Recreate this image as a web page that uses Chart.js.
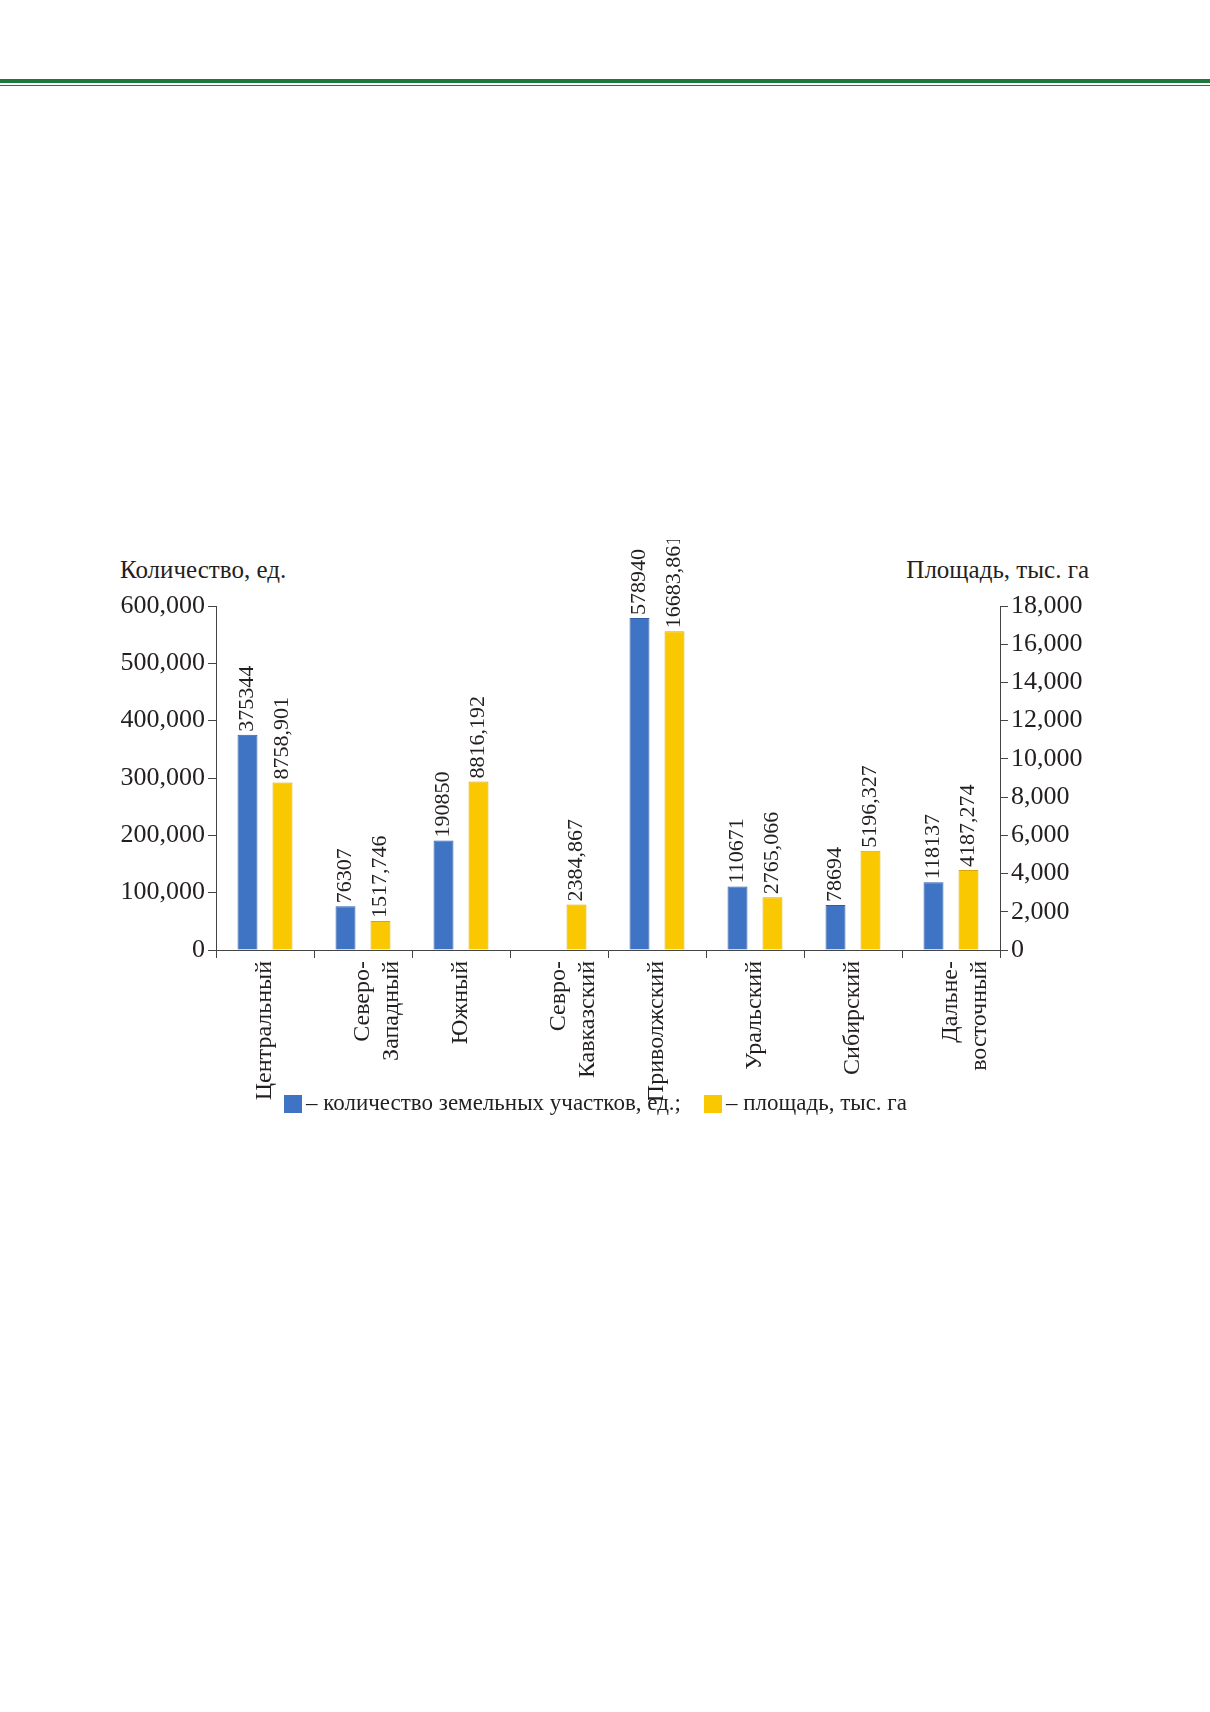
<!DOCTYPE html>
<html><head><meta charset="utf-8">
<script src="https://cdn.jsdelivr.net/npm/chart.js@4"></script>
<style>
body{margin:0;width:1210px;height:1712px;background:#fff;position:relative;font-family:"Liberation Serif","DejaVu Serif",serif;color:#231f20;}
.t{position:absolute;font-size:25px;white-space:nowrap;}
#wrap{position:absolute;left:116px;top:540px;width:984px;height:560px;}
.sw{display:inline-block;width:18px;height:18px;vertical-align:-3px;margin-right:4px;}
</style></head><body>
<div style="position:absolute;left:0;top:79px;width:1210px;height:4px;background:#1d7a3c"></div>
<div style="position:absolute;left:0;top:85px;width:1210px;height:1px;background:#1d7a3c"></div>
<div class="t" style="left:120px;top:556px">Количество, ед.</div>
<div class="t" style="right:121px;top:556px">Площадь, тыс. га</div>
<div id="wrap"><canvas id="c"></canvas></div>
<div class="t" style="left:284px;top:1090px;font-size:23px"><span class="sw" style="background:#3f73c4"></span>– количество земельных участков, ед.;&nbsp;&nbsp;&nbsp;&nbsp;<span class="sw" style="background:#f9c800"></span>– площадь, тыс. га</div>
<script>
const categories=[["Центральный"],["Северо-","Западный"],["Южный"],["Севро-","Кавказский"],["Приволжский"],["Уральский"],["Сибирский"],["Дальне-","восточный"]];
const countValues=[375344,76307,190850,null,578940,110671,78694,118137];
const areaValues=[8758.901,1517.746,8816.192,2384.867,16683.861,2765.066,5196.327,4187.274];
const countLabels=["375344","76307","190850","","578940","110671","78694","118137"];
const areaLabels=["8758,901","1517,746","8816,192","2384,867","16683,861","2765,066","5196,327","4187,274"];
const txt="#231f20";
const labelPlugin={id:"vl",afterDatasetsDraw(ch){
  const ctx=ch.ctx;ctx.save();ctx.font="22px 'Liberation Serif'";ctx.fillStyle=txt;ctx.textBaseline="middle";ctx.textAlign="left";
  [countLabels,areaLabels].forEach((labs,di)=>{ch.getDatasetMeta(di).data.forEach((b,i)=>{
    if(!labs[i])return;ctx.save();ctx.translate(b.x,b.y-3);ctx.rotate(-Math.PI/2);ctx.fillText(labs[i],0,0);ctx.restore();});});
  ctx.restore();}};
new Chart(document.getElementById("c"),{type:"bar",
 data:{labels:categories,datasets:[
  {data:countValues,backgroundColor:"#3f73c4",borderColor:"#2f5ea8",borderWidth:1,yAxisID:"y",categoryPercentage:0.714,barPercentage:0.57},
  {data:areaValues,backgroundColor:"#f9c800",borderColor:"#d9a800",borderWidth:1,yAxisID:"y1",categoryPercentage:0.714,barPercentage:0.57}]},
 options:{responsive:true,maintainAspectRatio:false,animation:false,
  layout:{padding:{top:66,bottom:0}},
  plugins:{legend:{display:false},tooltip:{enabled:false}},
  scales:{
   x:{offset:true,grid:{display:true,drawOnChartArea:false,offset:true,tickLength:8,color:"#444"},border:{color:"#444"},
      ticks:{minRotation:90,maxRotation:90,autoSkip:false,color:txt,font:{family:"Liberation Serif",size:24}},afterFit:s=>{s.height=150;}},
   y:{position:"left",min:0,max:600000,grid:{drawOnChartArea:false,tickLength:8,color:"#444"},border:{color:"#444"},
      ticks:{stepSize:50000,color:txt,font:{family:"Liberation Serif",size:26}},afterFit:s=>{s.width=100;}},
   y1:{position:"right",min:0,max:18000,grid:{drawOnChartArea:false,tickLength:8,color:"#444"},border:{color:"#444"},
      ticks:{stepSize:2000,color:txt,font:{family:"Liberation Serif",size:26}},afterFit:s=>{s.width=100;}}
  }},plugins:[labelPlugin]});
</script></body></html>
